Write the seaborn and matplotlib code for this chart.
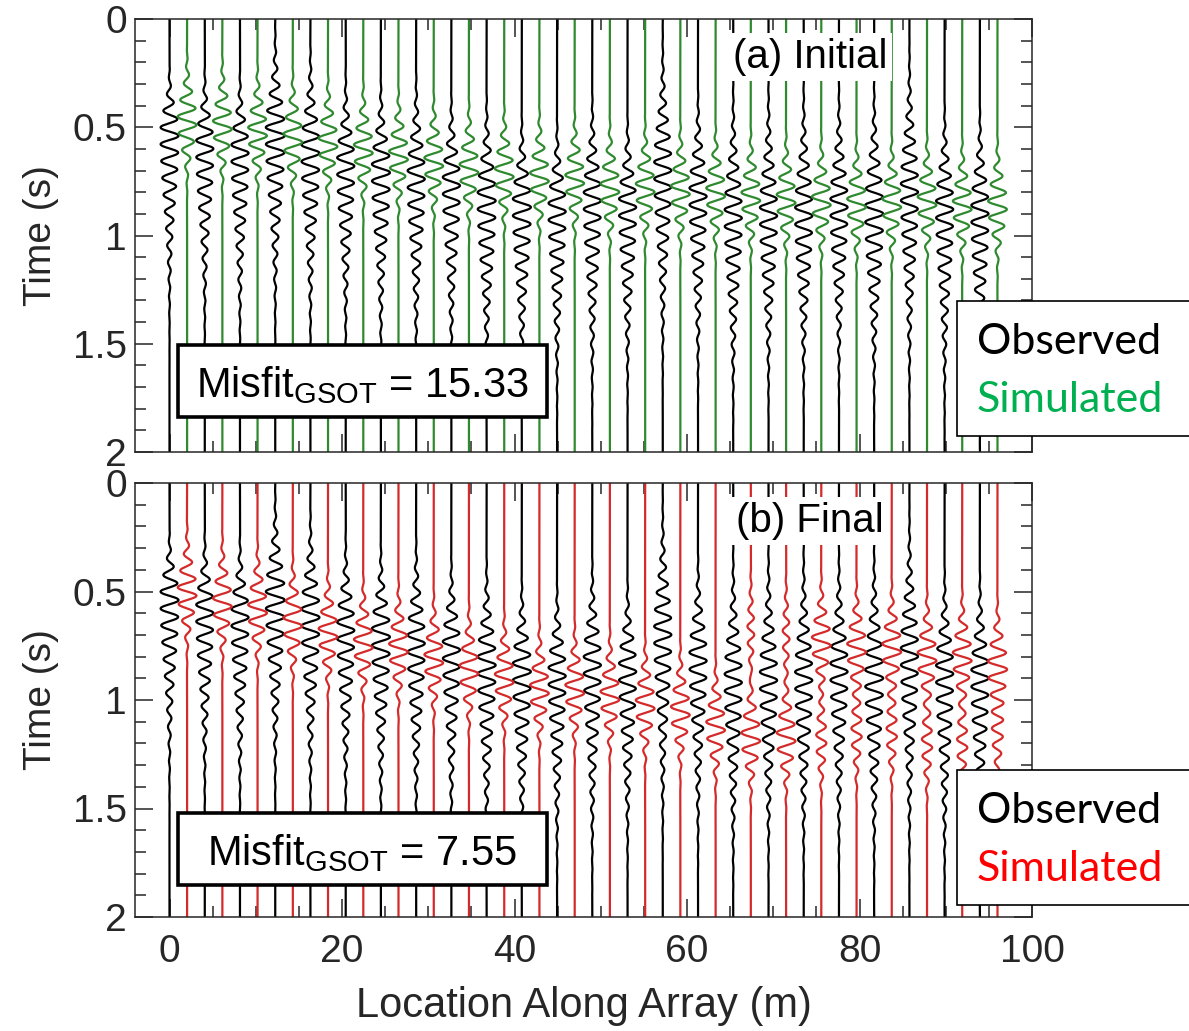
import numpy as np
import pandas as pd
import matplotlib
matplotlib.use("Agg")
import matplotlib.pyplot as plt
import seaborn as sns
from matplotlib.patches import Rectangle
from matplotlib.ticker import MultipleLocator, FuncFormatter

# ---------------- data ----------------
# trace locations (m)
obs_x = [0.0, 4.09, 8.17, 12.26, 16.34, 20.43, 24.51, 28.60, 32.68, 36.77, 40.85, 44.94,
         49.02, 53.11, 57.19, 61.28, 65.36, 69.45, 73.53, 77.62, 81.70, 85.79, 89.87, 93.96]
sim_x = [2.04, 6.13, 10.21, 14.30, 18.38, 22.47, 26.55, 30.64, 34.72, 38.81, 42.89, 46.98,
         51.06, 55.15, 59.23, 63.32, 67.40, 71.49, 75.57, 79.66, 83.74, 87.83, 91.91, 96.00]

# observed wave packets: peak time (s), rise and decay widths (s), amplitude (m)
obs_peak = [0.52, 0.58, 0.60, 0.52, 0.60, 0.66, 0.69, 0.72, 0.75, 0.82, 0.85, 0.87,
            0.82, 0.85, 0.68, 0.80, 0.90, 0.89, 0.89, 0.85, 0.88, 0.78, 0.86, 0.88]
obs_rise = [0.11, 0.13, 0.13, 0.17, 0.17, 0.15, 0.15, 0.17, 0.15, 0.17, 0.15, 0.15,
            0.17, 0.15, 0.21, 0.17, 0.21, 0.21, 0.21, 0.19, 0.21, 0.23, 0.17, 0.17]
obs_decay = [0.32, 0.32, 0.33, 0.33, 0.33, 0.32, 0.33, 0.33, 0.33, 0.33, 0.33, 0.33,
             0.35, 0.33, 0.35, 0.33, 0.33, 0.32, 0.32, 0.32, 0.33, 0.35, 0.35, 0.35]
obs_amp = [1.05, 1.00, 1.00, 1.10, 1.05, 1.00, 1.05, 1.00, 1.00, 1.05, 1.05, 1.00,
           1.00, 1.00, 1.00, 1.00, 1.00, 1.00, 1.00, 1.00, 1.05, 1.00, 1.00, 1.00]

# simulated (initial model) packets
init_peak = [0.47, 0.49, 0.52, 0.55, 0.57, 0.60, 0.63, 0.66, 0.69, 0.71, 0.73, 0.74,
             0.78, 0.78, 0.79, 0.80, 0.82, 0.83, 0.84, 0.85, 0.85, 0.84, 0.86, 0.86]
init_amp = [1.1] * 24

# simulated (final model) packets: main packet and an earlier second packet
final_peak = [0.50, 0.55, 0.58, 0.64, 0.69, 0.74, 0.76, 0.81, 0.86, 0.90, 0.95, 0.95,
              0.98, 1.02, 1.05, 1.12, 1.17, 1.17, 1.18, 1.15, 1.15, 1.20, 1.20, 1.15]
final_amp = [1.1] * 18 + [0.60] * 6
final_peak2 = [0.0] * 16 + [0.68, 0.70, 0.73, 0.76, 0.76, 0.80, 0.80, 0.84]
final_amp2 = [0.0] * 16 + [0.40, 0.40, 1.10, 1.10, 1.10, 1.10, 1.10, 1.10]

misfit = ["15.33", "7.55"]
panel_titles = ["(a) Initial", "(b) Final"]
sim_colors = ["#2f8a2f", "#d42a2a"]
legend_colors = ["#00b050", "#ff0000"]

OBS_PERIOD = 0.078
SIM_PERIOD = 0.078
SIM_WIDTH = 0.12
t = np.linspace(0, 2, 2001)


def packet(tc, s_pre, s_post, amp, period):
    s = np.where(t < tc, s_pre, s_post)
    return amp * np.exp(-0.5 * ((t - tc) / s) ** 2) * np.sin(2 * np.pi * (t - tc) / period)


def build_frame(sim_peak, sim_amp, sim_peak2=None, sim_amp2=None):
    rows = []
    for i, x0 in enumerate(obs_x):
        w = packet(obs_peak[i], obs_rise[i], obs_decay[i], obs_amp[i], OBS_PERIOD)
        rows.append(pd.DataFrame({"x": x0 + w, "t": t, "unit": f"o{i}", "kind": "obs"}))
    for i, x0 in enumerate(sim_x):
        w = packet(sim_peak[i], SIM_WIDTH, SIM_WIDTH, sim_amp[i], SIM_PERIOD)
        if sim_peak2 is not None and sim_amp2[i] > 0:
            w = w + packet(sim_peak2[i], SIM_WIDTH, SIM_WIDTH, sim_amp2[i], SIM_PERIOD)
        rows.append(pd.DataFrame({"x": x0 + w, "t": t, "unit": f"s{i}", "kind": "sim"}))
    return pd.concat(rows, ignore_index=True)


frames = [build_frame(init_peak, init_amp),
          build_frame(final_peak, final_amp, final_peak2, final_amp2)]

# ---------------- figure ----------------
sns.set_style("ticks")
plt.rcParams["font.family"] = ["Liberation Sans", "DejaVu Sans"]
plt.rcParams["mathtext.fontset"] = "custom"
plt.rcParams["mathtext.rm"] = "Liberation Sans"

W, H = 1189, 1031
fig = plt.figure(figsize=(W / 100, H / 100), dpi=100)
ax_rects = [(135, 19, 1032, 452), (135, 483, 1032, 917)]
axes = []
for (l, tp, r, b) in ax_rects:
    axes.append(fig.add_axes([l / W, 1 - b / H, (r - l) / W, (b - tp) / H]))

spine_col = "#262626"
for p, ax in enumerate(axes):
    sns.lineplot(data=frames[p], x="x", y="t", units="unit", estimator=None, sort=False,
                 hue="kind", palette={"obs": "black", "sim": sim_colors[p]},
                 linewidth=1.6, legend=False, ax=ax)
    ax.set_xlim(-4, 100)
    ax.set_ylim(2, 0)
    ax.xaxis.set_major_locator(MultipleLocator(20))
    ax.xaxis.set_minor_locator(MultipleLocator(5))
    ax.yaxis.set_major_locator(MultipleLocator(0.5))
    ax.yaxis.set_minor_locator(MultipleLocator(0.1))
    ax.yaxis.set_major_formatter(FuncFormatter(lambda v, pos: f"{v:g}"))
    ax.xaxis.set_major_formatter(FuncFormatter(lambda v, pos: f"{v:g}"))
    ax.tick_params(which="both", direction="in", top=True, right=True,
                   color=spine_col, width=1.1, labelsize=28, labelcolor="#262626")
    ax.tick_params(which="major", length=13, pad=6)
    ax.tick_params(which="minor", length=8)
    ax.tick_params(axis="x", which="major", pad=12)
    for s in ax.spines.values():
        s.set_color(spine_col)
        s.set_linewidth(1.1)
    ax.set_ylabel("Time (s)", fontsize=28, color="#262626", labelpad=10)
    ax.set_xlabel("")

    # panel title with white background
    ax.text(74.3, 0.175, panel_titles[p], fontsize=29, ha="center", va="center",
            color="black", zorder=5,
            bbox=dict(boxstyle="square,pad=0.12", fc="white", ec="none"))

    # misfit box
    by = [0.0808, 0.0737][p]
    ax.add_patch(Rectangle((0.048, by), 0.411, 0.166, transform=ax.transAxes,
                           facecolor="white", edgecolor="black", linewidth=2.6, zorder=6))
    ax.text(0.048 + 0.411 / 2, by + 0.045, r"Misfit$_\mathregular{GSOT}$ = " + misfit[p],
            transform=ax.transAxes, fontsize=30, ha="center", va="baseline",
            color="black", zorder=7)

axes[0].tick_params(labelbottom=False)
axes[1].set_xlabel("Location Along Array (m)", fontsize=30, color="#262626", labelpad=12)

# legend boxes (outside, partly off the right edge)
for p, top in enumerate([301, 770]):
    fig.patches.append(Rectangle((957 / W, 1 - (top + 135) / H), 300 / W, 135 / H,
                                 transform=fig.transFigure, facecolor="white",
                                 edgecolor="black", linewidth=1.2, zorder=10))
    fig.text(977 / W, 1 - (top + 53) / H, "Observed", fontfamily="Lato", fontsize=31,
             color="black", va="baseline", zorder=11)
    fig.text(977 / W, 1 - (top + 111) / H, "Simulated", fontfamily="Lato", fontsize=31,
             color=legend_colors[p], va="baseline", zorder=11)

fig.savefig("out.png", dpi=100)
